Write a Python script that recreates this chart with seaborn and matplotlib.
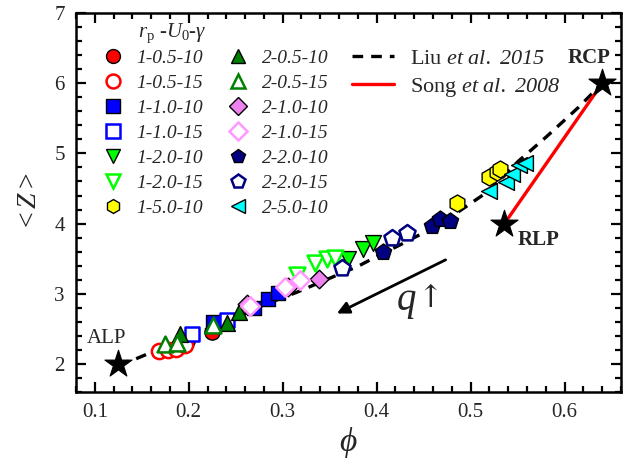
import matplotlib
matplotlib.use("Agg")
import matplotlib.pyplot as plt
from matplotlib.lines import Line2D
import seaborn as sns
import pandas as pd

# ---- simulation data: packing fraction phi and mean coordination number <Z> ----
phi_1_05_10 = [0.198, 0.225]
z_1_05_10 = [2.33, 2.45]
phi_1_05_15 = [0.168, 0.178, 0.186, 0.196]
z_1_05_15 = [2.18, 2.19, 2.21, 2.27]
phi_1_10_10 = [0.226, 0.270, 0.284, 0.295]
z_1_10_10 = [2.59, 2.80, 2.92, 3.01]
phi_1_10_15 = [0.204, 0.241]
z_1_10_15 = [2.43, 2.62]
phi_1_20_10 = [0.369, 0.385, 0.396]
z_1_20_10 = [3.50, 3.64, 3.73]
phi_1_20_15 = [0.315, 0.334, 0.347, 0.356]
z_1_20_15 = [3.26, 3.44, 3.49, 3.51]
phi_1_50_10 = [0.485, 0.520, 0.528, 0.531]
z_1_50_10 = [4.30, 4.66, 4.73, 4.78]
phi_2_05_10 = [0.191, 0.241, 0.254]
z_2_05_10 = [2.42, 2.58, 2.74]
phi_2_05_15 = [0.175, 0.187, 0.226]
z_2_05_15 = [2.28, 2.30, 2.55]
phi_2_10_10 = [0.262, 0.306, 0.339]
z_2_10_10 = [2.86, 3.09, 3.21]
phi_2_10_15 = [0.265, 0.302, 0.318]
z_2_10_15 = [2.83, 3.09, 3.20]
phi_2_20_10 = [0.407, 0.459, 0.467, 0.478]
z_2_20_10 = [3.59, 3.97, 4.07, 4.04]
phi_2_20_15 = [0.363, 0.416, 0.432]
z_2_20_15 = [3.37, 3.79, 3.87]
phi_2_50_10 = [0.520, 0.538, 0.544, 0.552, 0.558]
z_2_50_10 = [4.47, 4.59, 4.71, 4.83, 4.86]

# reference curves
liu_phi = [0.125, 0.14, 0.165, 0.20, 0.25, 0.28, 0.315, 0.35, 0.38, 0.40,
           0.43, 0.45, 0.485, 0.52, 0.55, 0.58, 0.615, 0.64]
liu_z = [2.0, 2.05, 2.19, 2.39, 2.65, 2.84, 3.02, 3.22, 3.39, 3.53,
         3.73, 3.87, 4.15, 4.47, 4.88, 5.23, 5.66, 6.0]
song_phi = [0.536, 0.640]
song_z = [4.0, 6.0]

# characteristic packings
pack_names = ["ALP", "RLP", "RCP"]
pack_phi = [0.125, 0.536, 0.640]
pack_z = [2.0, 4.0, 6.0]

sns.set_theme(style="ticks")
plt.rcParams["font.family"] = ["Liberation Serif", "DejaVu Serif"]
plt.rcParams["mathtext.fontset"] = "custom"
plt.rcParams["mathtext.rm"] = "Liberation Serif"
plt.rcParams["mathtext.it"] = "Liberation Serif:italic"
plt.rcParams["mathtext.bf"] = "Liberation Serif:bold"
# fully italic class (digits included) for the citation text
plt.rcParams["mathtext.sf"] = "Liberation Serif:italic"

fig = plt.figure(figsize=(6.33, 4.71), dpi=100)
ax = fig.add_axes([0.120, 0.168, 0.861, 0.804])

# (label, phi, z, marker, face, edge, edge width)
series = [
    ("1-0.5-10", phi_1_05_10, z_1_05_10, "o", "#ff0000", "black", 1.0),
    ("1-0.5-15", phi_1_05_15, z_1_05_15, "o", "white", "#ff0000", 1.8),
    ("1-1.0-10", phi_1_10_10, z_1_10_10, "s", "#0000ff", "black", 1.0),
    ("1-1.0-15", phi_1_10_15, z_1_10_15, "s", "white", "#0000ff", 1.8),
    ("1-2.0-10", phi_1_20_10, z_1_20_10, "v", "#00ff00", "black", 1.0),
    ("1-2.0-15", phi_1_20_15, z_1_20_15, "v", "white", "#00ff00", 1.8),
    ("1-5.0-10", phi_1_50_10, z_1_50_10, "h", "#ffff00", "black", 1.0),
    ("2-0.5-10", phi_2_05_10, z_2_05_10, "^", "#008000", "black", 1.0),
    ("2-0.5-15", phi_2_05_15, z_2_05_15, "^", "white", "#008000", 1.8),
    ("2-1.0-10", phi_2_10_10, z_2_10_10, "D", "#ee82ee", "black", 1.0),
    ("2-1.0-15", phi_2_10_15, z_2_10_15, "D", "white", "#ff99ff", 1.8),
    ("2-2.0-10", phi_2_20_10, z_2_20_10, "p", "#000080", "black", 1.0),
    ("2-2.0-15", phi_2_20_15, z_2_20_15, "p", "white", "#000080", 1.8),
    ("2-5.0-10", phi_2_50_10, z_2_50_10, "<", "#00ffff", "black", 1.0),
]

# reference curves
sns.lineplot(x=liu_phi, y=liu_z, sort=False, ax=ax, color="black", lw=2.4,
             dashes=False, linestyle=(0, (3.2, 2.4)), zorder=2)
sns.lineplot(x=song_phi, y=song_z, sort=False, ax=ax, color="#ff0000", lw=2.4,
             zorder=2)

handles = []
sizes = {"o": 120, "s": 100, "v": 130, "h": 150, "^": 130, "D": 90, "p": 150, "<": 130}
for lab, px, pz, mk, fc, ec, ew in series:
    df = pd.DataFrame({"phi": px, "Z": pz})
    sns.scatterplot(data=df, x="phi", y="Z", ax=ax, marker=mk, s=sizes[mk],
                    color=fc, edgecolor=ec, linewidth=ew, zorder=3, legend=False)
    handles.append(Line2D([], [], ls="none", marker=mk, markersize=10 if mk != "D" else 9,
                          markerfacecolor=fc, markeredgecolor=ec, markeredgewidth=ew))

# characteristic packings as stars
sns.scatterplot(x=pack_phi, y=pack_z, ax=ax, marker="*", s=420, color="black",
                edgecolor="black", linewidth=0.8, zorder=4, legend=False)
ax.text(0.113, 2.36, pack_names[0], fontsize=15, ha="center", va="center")
ax.text(0.572, 3.76, pack_names[1], fontsize=15, ha="center", va="center", fontweight="bold")
ax.text(0.626, 6.36, pack_names[2], fontsize=15, ha="center", va="center", fontweight="bold")

# direction of increasing q
ax.annotate("", xy=(0.355, 2.70), xytext=(0.476, 3.50),
            arrowprops=dict(arrowstyle="-|>", color="black", lw=2.0,
                            mutation_scale=18))
ax.text(0.432, 2.87, "$q$", fontsize=28, ha="center", va="center")
ax.text(0.457, 2.93, "\u2191", fontsize=22, ha="center", va="center",
        family=["DejaVu Serif"])

ax.set_xlim(0.08, 0.66)
ax.set_ylim(1.6, 7.0)
ax.set_xticks([0.1, 0.2, 0.3, 0.4, 0.5, 0.6])
ax.set_xticklabels(["0.1", "0.2", "0.3", "0.4", "0.5", "0.6"])
ax.set_yticks([2, 3, 4, 5, 6, 7])
ax.set_yticklabels(["2", "3", "4", "5", "6", "7"])
ax.xaxis.set_minor_locator(matplotlib.ticker.MultipleLocator(0.02))
ax.yaxis.set_minor_locator(matplotlib.ticker.MultipleLocator(0.2))
ax.tick_params(which="both", direction="in", top=True, right=True, width=1.6,
               labelsize=15, color="black")
ax.tick_params(which="major", length=7, pad=8)
ax.tick_params(which="minor", length=4)
for sp in ax.spines.values():
    sp.set_linewidth(1.8)
    sp.set_color("black")

ax.set_xlabel(r"$\phi$", fontsize=24, labelpad=2)
ax.set_ylabel(r"$<Z>$", fontsize=20, labelpad=9)

labels = [s[0] for s in series]
leg1 = ax.legend(handles, labels, ncol=2, loc="upper left",
                 bbox_to_anchor=(0.033, 0.925), frameon=False,
                 prop={"style": "italic", "size": 14},
                 handletextpad=0.6, columnspacing=1.2, labelspacing=0.38,
                 borderaxespad=0, handlelength=1.2)
ax.add_artist(leg1)
ax.text(0.114, 0.947, r"$r_{\mathrm{p}}$ -$U_0$-$\gamma$", transform=ax.transAxes,
        fontsize=15, ha="left", va="center")

line_handles = [Line2D([], [], color="black", lw=2.4, linestyle=(0, (3.2, 2.4))),
                Line2D([], [], color="#ff0000", lw=2.4)]
line_labels = [r"Liu $\mathsf{et\ al.\ 2015}$", r"Song $\mathsf{et\ al.\ 2008}$"]
ax.legend(line_handles, line_labels, loc="upper left", bbox_to_anchor=(0.49, 0.93),
          frameon=False, prop={"size": 16}, handlelength=1.9, handletextpad=0.7,
          labelspacing=0.3, borderaxespad=0)

fig.savefig("out.png", dpi=100)
